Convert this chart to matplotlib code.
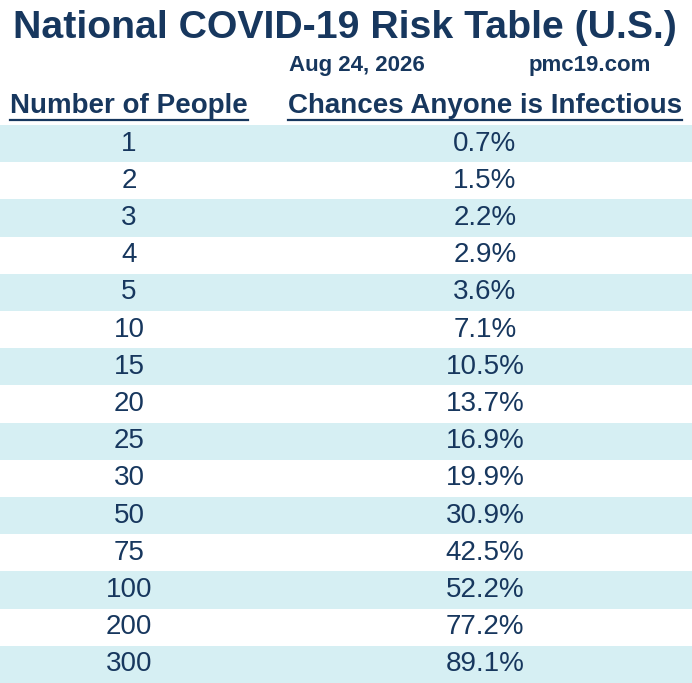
import matplotlib.pyplot as plt
from matplotlib.patches import Rectangle

plt.rcParams['font.family'] = ['Liberation Sans', 'DejaVu Sans']

# table values
people = [1, 2, 3, 4, 5, 10, 15, 20, 25, 30, 50, 75, 100, 200, 300]
chances = [0.7, 1.5, 2.2, 2.9, 3.6, 7.1, 10.5, 13.7, 16.9, 19.9,
           30.9, 42.5, 52.2, 77.2, 89.1]

title = "National COVID-19 Risk Table (U.S.)"
date_text = "Aug 24, 2026"
site_text = "pmc19.com"
col_headers = ["Number of People", "Chances Anyone is Infectious"]

W, H = 692, 683
navy = "#17375e"
stripe = "#d6eff3"

fig = plt.figure(figsize=(W / 100, H / 100), dpi=100)
ax = fig.add_axes([0, 0, 1, 1])
ax.set_xlim(0, W)
ax.set_ylim(H, 0)
ax.axis("off")

ax.text(345, 28, title, ha="center", va="center", fontsize=28.3,
        fontweight="bold", color=navy)
ax.text(357, 66, date_text, ha="center", va="center", fontsize=16,
        fontweight="bold", color=navy)
ax.text(590, 66, site_text, ha="center", va="center", fontsize=16,
        fontweight="bold", color=navy)

col_x = [129, 485]
for x, h in zip(col_x, col_headers):
    t = ax.text(x, 106, h, ha="center", va="center", fontsize=20,
                fontweight="bold", color=navy)
    fig.canvas.draw()
    bb = t.get_window_extent().transformed(ax.transData.inverted())
    ax.plot([bb.x0, bb.x1], [120, 120], color=navy, lw=1.6)

top, row_h = 125, 37.2
for i, (n, c) in enumerate(zip(people, chances)):
    y0 = top + i * row_h
    if i % 2 == 0:
        ax.add_patch(Rectangle((0, y0), W, row_h, color=stripe, lw=0))
    yc = y0 + row_h / 2
    ax.text(col_x[0], yc, str(n), ha="center", va="center", fontsize=20, color=navy)
    ax.text(col_x[1], yc, f"{c:.1f}%", ha="center", va="center", fontsize=20, color=navy)

fig.savefig("out.png", dpi=100)
